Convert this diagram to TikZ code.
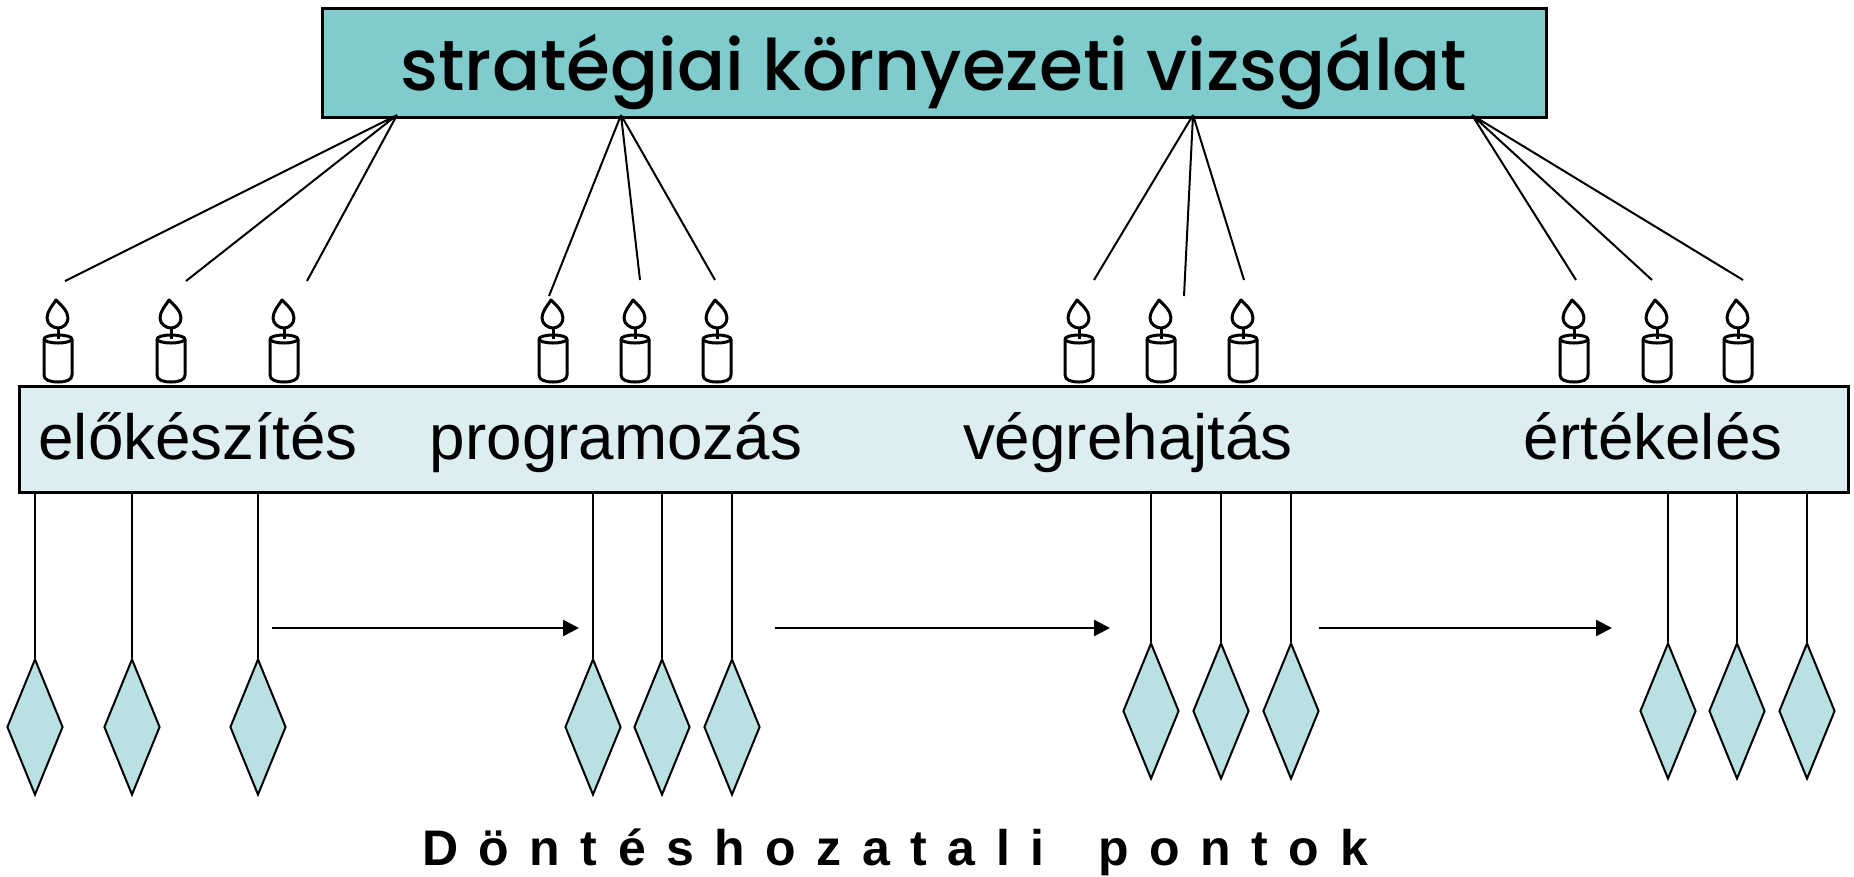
\documentclass[tikz,border=0pt]{standalone}
\usepackage{fontspec}
\setmainfont{Liberation Sans}
\newfontfamily\titlefont{Poppins Medium}
\usetikzlibrary{shapes.geometric,arrows.meta}
\definecolor{title_fill}{HTML}{80CCCC}
\definecolor{bar_fill}{HTML}{DDEEF0}
\definecolor{point_fill}{HTML}{B9E0E3}

\begin{document}
\begin{tikzpicture}[x=1pt,y=-1pt,line width=2pt,
    box_node/.style={draw,line width=3pt,inner sep=0pt},
    phase_node/.style={anchor=base,inner sep=0pt,font=\fontsize{63.8}{70}\selectfont},
    point_node/.style={diamond,draw,fill=point_fill,minimum width=56pt,minimum height=136pt,inner sep=0pt},
    flow_arrow/.style={line width=2.5pt,-{Triangle[length=16pt,width=16pt]}},
    candle/.pic={
        \begin{scope}[line width=3pt,line join=round]
        \draw (-2,-82) .. controls (3,-77) and (10,-71) .. (10,-64)
            .. controls (10,-58) and (5,-54) .. (0,-54)
            .. controls (-5,-54) and (-11,-58) .. (-11,-64)
            .. controls (-11,-71) and (-5,-77) .. (-2,-82) -- cycle;
        \draw (0,-54) -- (0,-43);
        \draw (0,-43) ellipse (14 and 4);
        \draw (-14,-43) -- (-14,-7) .. controls (-14,-2) and (-8,0) .. (0,0)
            .. controls (8,0) and (14,-2) .. (14,-7) -- (14,-43);
        \end{scope}
    }]
    \useasboundingbox (0,0) rectangle (1854,876);

    \node[box_node,fill=title_fill,minimum width=1224pt,minimum height=109pt] (title) at (934,63) {};
    \node[anchor=base,inner sep=0pt,font=\titlefont\fontsize{71}{76}\selectfont] (title_text) at (934,90) {stratégiai környezeti vizsgálat};
    \node[box_node,fill=bar_fill,minimum width=1829pt,minimum height=106pt] (bar) at (934,439) {};

    \node[phase_node] (phase1) at (198,459) {előkészítés};
    \node[phase_node] (phase2) at (616,459) {programozás};
    \node[phase_node] (phase3) at (1128,459) {végrehajtás};
    \node[phase_node] (phase4) at (1653,459) {értékelés};

    \pic at (58,382) {candle};
    \pic at (171,382) {candle};
    \pic at (284,382) {candle};
    \pic at (553,382) {candle};
    \pic at (635,382) {candle};
    \pic at (717,382) {candle};
    \pic at (1079,382) {candle};
    \pic at (1161,382) {candle};
    \pic at (1243,382) {candle};
    \pic at (1574,382) {candle};
    \pic at (1657,382) {candle};
    \pic at (1738,382) {candle};

    \coordinate (root1) at (397,115);
    \coordinate (root2) at (621,115);
    \coordinate (root3) at (1193,115);
    \coordinate (root4) at (1472,115);
    \coordinate (end1) at (65,281);
    \coordinate (end2) at (186,281);
    \coordinate (end3) at (307,281);
    \coordinate (end4) at (549,296);
    \coordinate (end5) at (640,280);
    \coordinate (end6) at (715,280);
    \coordinate (end7) at (1094,280);
    \coordinate (end8) at (1184,296);
    \coordinate (end9) at (1244,280);
    \coordinate (end10) at (1576,280);
    \coordinate (end11) at (1652,280);
    \coordinate (end12) at (1743,280);
    \draw (root1) -- (end1) (root1) -- (end2) (root1) -- (end3);
    \draw (root2) -- (end4) (root2) -- (end5) (root2) -- (end6);
    \draw (root3) -- (end7) (root3) -- (end8) (root3) -- (end9);
    \draw (root4) -- (end10) (root4) -- (end11) (root4) -- (end12);

    \node[point_node] (p1) at (35,727) {};
    \node[point_node] (p2) at (132,727) {};
    \node[point_node] (p3) at (258,727) {};
    \node[point_node] (p4) at (593,727) {};
    \node[point_node] (p5) at (662,727) {};
    \node[point_node] (p6) at (732,727) {};
    \node[point_node] (p7) at (1151,711) {};
    \node[point_node] (p8) at (1221,711) {};
    \node[point_node] (p9) at (1291,711) {};
    \node[point_node] (p10) at (1668,711) {};
    \node[point_node] (p11) at (1737,711) {};
    \node[point_node] (p12) at (1807,711) {};
    \draw (bar.south -| p1) -- (p1);
    \draw (bar.south -| p2) -- (p2);
    \draw (bar.south -| p3) -- (p3);
    \draw (bar.south -| p4) -- (p4);
    \draw (bar.south -| p5) -- (p5);
    \draw (bar.south -| p6) -- (p6);
    \draw (bar.south -| p7) -- (p7);
    \draw (bar.south -| p8) -- (p8);
    \draw (bar.south -| p9) -- (p9);
    \draw (bar.south -| p10) -- (p10);
    \draw (bar.south -| p11) -- (p11);
    \draw (bar.south -| p12) -- (p12);

    \coordinate (a1) at (272,628);
    \coordinate (b1) at (579,628);
    \coordinate (a2) at (775,628);
    \coordinate (b2) at (1110,628);
    \coordinate (a3) at (1319,628);
    \coordinate (b3) at (1612,628);
    \draw[flow_arrow] (a1) -- (b1);
    \draw[flow_arrow] (a2) -- (b2);
    \draw[flow_arrow] (a3) -- (b3);

    \node[anchor=base,inner sep=0pt,font=\addfontfeature{LetterSpace=41}\bfseries\fontsize{50}{54}\selectfont] (caption) at (895,865) {Döntéshozatali\hspace{20pt} pontok};
\end{tikzpicture}
\end{document}
